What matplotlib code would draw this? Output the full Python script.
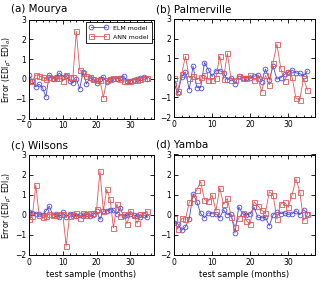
import matplotlib
matplotlib.use('Agg')
import matplotlib.pyplot as plt
import numpy as np
from matplotlib.ticker import MultipleLocator

# test sample index (months)
months = np.arange(36)

elm_mourya = [0.2, -0.1, -0.4, -0.27, -0.45, -0.9, 0.2, 0.0, 0.1, 0.3, 0.1, 0.15,
              -0.1, -0.2, 0.0, -0.5, 0.35, -0.25, 0.05, 0.0, -0.2, 0.0, 0.1, -0.15,
              0.0, 0.0, 0.0, 0.05, 0.15, -0.1, -0.1, -0.05, 0.0, 0.05, 0.1, 0.0]
ann_mourya = [-0.1, -0.12, 0.2, 0.15, 0.1, 0.0, 0.1, 0.05, 0.05, 0.05, -0.1, 0.2,
              0.1, 0.1, 2.4, 0.47, 0.3, 0.15, 0.1, 0.0, -0.05, -0.05, -0.95, -0.05,
              0.0, 0.05, 0.05, 0.0, -0.1, -0.12, -0.1, -0.05, -0.05, 0.0, 0.05, 0.05]

elm_palmerville = [-0.3, -0.8, 0.05, 0.3, -0.6, 0.6, -0.5, -0.5, 0.78, 0.42, 0.07, 0.37,
                   0.37, 0.25, -0.1, 0.0, -0.3, 0.1, 0.0, 0.0, 0.0, 0.07, 0.15, -0.2,
                   0.45, -0.1, 0.6, -0.07, 0.0, 0.17, 0.3, 0.4, 0.25, 0.22, 0.1, 0.35]
ann_palmerville = [0.0, -0.65, 0.2, 1.1, 0.0, 0.1, -0.1, 0.05, 0.15, -0.1, -0.1, 0.0,
                   1.12, -0.05, 1.27, -0.12, -0.1, 0.07, 0.0, -0.03, 0.12, -0.12, 0.0, -0.7,
                   0.12, -0.35, 0.78, 1.73, 0.5, -0.18, 0.3, 0.03, -1.05, -1.12, -0.03, -0.62]

elm_wilsons = [0.15, 0.12, 0.07, 0.05, 0.0, 0.2, 0.45, 0.0, 0.05, -0.1, 0.15, -0.1,
               0.07, 0.05, -0.05, 0.0, -0.05, 0.05, -0.05, 0.0, 0.2, -0.22, 0.2, 0.2,
               0.27, 0.25, 0.05, 0.35, -0.05, 0.0, 0.07, 0.0, -0.05, -0.12, 0.0, -0.1]
ann_wilsons = [-0.2, -0.05, 1.5, 0.0, -0.1, -0.07, 0.07, 0.0, 0.0, 0.07, 0.05, -1.55,
               -0.05, 0.0, 0.1, -0.15, 0.12, 0.0, 0.12, 0.1, 0.28, 2.2, 0.2, 1.28,
               0.78, -0.65, 0.55, -0.05, 0.05, -0.45, 0.2, 0.0, -0.42, 0.05, 0.07, 0.2]

elm_yamba = [-0.4, -0.45, -0.78, -0.6, -0.2, 1.05, 0.63, 0.07, -0.15, 0.1, 0.05, 0.05,
             -0.15, 0.25, 0.0, 0.02, -0.9, 0.4, 0.05, 0.0, 0.05, 0.38, -0.12, -0.15,
             -0.12, -0.55, 0.0, 0.12, 0.05, 0.1, 0.02, 0.05, 0.2, 0.0, 0.25, 0.05]
ann_yamba = [-0.15, -0.72, -0.18, -0.22, 0.62, 0.85, 1.25, 1.65, 0.75, 0.68, 0.98, 0.2,
             1.35, 0.52, 0.82, -0.1, -0.6, -0.15, 0.1, -0.3, -0.45, 0.65, 0.45, 0.22,
             0.1, 1.15, 1.0, -0.22, 0.55, 0.62, 0.38, 1.0, 1.8, 1.15, -0.28, 0.03]

titles = ['(a) Mourya', '(b) Palmerville', '(c) Wilsons', '(d) Yamba']
elm_all = [elm_mourya, elm_palmerville, elm_wilsons, elm_yamba]
ann_all = [ann_mourya, ann_palmerville, ann_wilsons, ann_yamba]

W, H = 322, 283
fig = plt.figure(figsize=(W / 100, H / 100), dpi=100)

# axes boxes in pixels: left, right, top, bottom
boxes = [(29, 154, 19.5, 118.5), (174, 315, 19, 117),
         (29, 154, 155, 255), (174, 315, 154.5, 255)]

blue = '#4a4ad6'
red = '#e05858'

for k, (l, r, t, b) in enumerate(boxes):
    ax = fig.add_axes([l / W, 1 - b / H, (r - l) / W, (b - t) / H])
    ax.plot(months, elm_all[k], '-', color=blue, lw=0.6, marker='o', ms=3.4,
            mfc='none', mec=blue, mew=0.6, label='ELM model')
    ax.plot(months, ann_all[k], '-', color=red, lw=0.6, marker='s', ms=3.6,
            mfc='none', mec=red, mew=0.6, label='ANN model')
    ax.set_xlim(0, 37)
    ax.set_ylim(-2, 3)
    ax.set_xticks([0, 10, 20, 30])
    ax.set_yticks([-2, -1, 0, 1, 2, 3])
    ax.xaxis.set_minor_locator(MultipleLocator(2))
    ax.tick_params(which='both', direction='in', top=True, right=True,
                   labelsize=5.5, pad=2, width=0.6)
    ax.tick_params(which='major', length=3)
    ax.tick_params(which='minor', length=1.5)
    for s in ax.spines.values():
        s.set_linewidth(0.7)
    fig.text((l - 18) / W, 1 - (t - 10) / H, titles[k], fontsize=7.5,
             ha='left', va='center')
    if k % 2 == 0:
        ax.set_ylabel('Error (EDI$_p$- EDI$_o$)', fontsize=5.5, labelpad=1)
    if k >= 2:
        ax.set_xlabel('test sample (months)', fontsize=6, labelpad=2)
    if k == 0:
        leg = ax.legend(loc='upper right', fontsize=4.5, numpoints=2,
                        handlelength=3, borderpad=0.5, labelspacing=0.6,
                        fancybox=False, edgecolor='black', framealpha=1,
                        borderaxespad=0.4)
        leg.get_frame().set_linewidth(0.6)

fig.savefig('out.png', dpi=100)
